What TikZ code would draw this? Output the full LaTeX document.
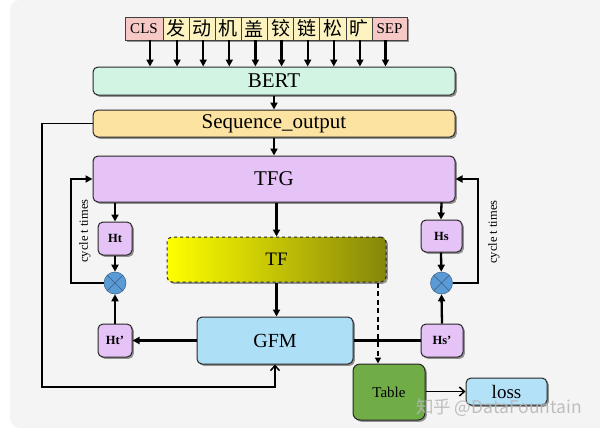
\documentclass[tikz,border=0pt]{standalone}
\usepackage{fontspec}
\setmainfont{Liberation Serif}
\newfontfamily\cjk{Noto Sans CJK SC}
\usetikzlibrary{arrows.meta,shadows}
\definecolor{bgc}{HTML}{F4F4F4}
\definecolor{pinkc}{HTML}{F6C9C6}
\definecolor{yelc}{HTML}{FDF3C0}
\definecolor{mintc}{HTML}{D2F5E3}
\definecolor{seqc}{HTML}{FDE3A1}
\definecolor{lavc}{HTML}{E6C3F7}
\definecolor{bluec}{HTML}{ADDFF7}
\definecolor{lossc}{HTML}{B3E1F8}
\definecolor{greenc}{HTML}{70AD47}
\definecolor{circc}{HTML}{5B9BD5}
\definecolor{oliveend}{HTML}{86860A}
\tikzset{
  shad/.style={drop shadow={shadow xshift=1.8pt,shadow yshift=-1.8pt,opacity=0.4,fill=black}},
  tok/.style={draw=black!75,line width=0.7pt,minimum height=23pt,inner sep=0pt,shad},
  cjktok/.style={tok,fill=yelc,minimum width=26.1pt,font=\cjk\fontsize{19}{19}\selectfont},
  spectok/.style={tok,fill=pinkc,font=\fontsize{15}{15}\selectfont},
  bigbox/.style={draw=black!85,line width=1pt,rounded corners=5pt,inner sep=0pt,shad,
                 font=\fontsize{21}{21}\selectfont},
  smallbox/.style={draw=black!85,line width=1pt,rounded corners=5pt,inner sep=0pt,fill=lavc,shad,
                 font=\bfseries\fontsize{12.5}{12.5}\selectfont},
  mult/.style={circle,draw=circc!70!black,fill=circc,line width=0.6pt,minimum size=22pt,inner sep=0pt},
  arr/.style={line width=2.3pt,-{Triangle[length=7pt,width=7pt]}},
  thinarr/.style={line width=1.5pt,-{Straight Barb[length=5pt,width=9pt]}},
  looptext/.style={rotate=90,font=\fontsize{12.5}{12.5}\selectfont}
}
\begin{document}
\begin{tikzpicture}[x=1pt,y=-1pt]
\useasboundingbox (0,0) rectangle (600,432);
\fill[white] (0,0) rectangle (600,432);
\fill[bgc,rounded corners=10pt] (10,0) rectangle (620,428);

% tokens
\node[spectok,minimum width=38pt] (cls) at (144,28.5) {CLS};
\node[cjktok] (t1) at (176.1,28.5) {发};
\node[cjktok] (t2) at (202.2,28.5) {动};
\node[cjktok] (t3) at (228.3,28.5) {机};
\node[cjktok] (t4) at (254.4,28.5) {盖};
\node[cjktok] (t5) at (280.6,28.5) {铰};
\node[cjktok] (t6) at (306.7,28.5) {链};
\node[cjktok] (t7) at (332.8,28.5) {松};
\node[cjktok] (t8) at (358.9,28.5) {旷};
\node[spectok,minimum width=35pt] (sep) at (389.5,28.5) {SEP};

% main column
\node[bigbox,fill=mintc,minimum width=362pt,minimum height=28pt] (bert) at (274,81) {BERT};
\node[bigbox,fill=seqc,minimum width=362pt,minimum height=27pt] (seq) at (274,123.5) {Sequence\_output};
\node[bigbox,fill=lavc,minimum width=362pt,minimum height=46pt] (tfg) at (274,179) {TFG};
\node[bigbox,dashed,left color=yellow,right color=oliveend,minimum width=219pt,minimum height=45pt,
      font=\fontsize{19}{19}\selectfont] (tf) at (276.5,259.5) {TF};
\node[bigbox,fill=bluec,minimum width=156pt,minimum height=47pt,font=\fontsize{20}{20}\selectfont] (gfm) at (275,340.5) {GFM};

% side boxes
\node[smallbox,minimum width=34pt,minimum height=33pt] (ht) at (115,238.5) {Ht};
\node[smallbox,minimum width=41pt,minimum height=32pt] (hs) at (441.5,236) {Hs};
\node[smallbox,minimum width=34pt,minimum height=33pt] (htp) at (115,340.5) {Ht’};
\node[smallbox,minimum width=42pt,minimum height=33pt] (hsp) at (442,340.5) {Hs’};
\node[mult] (mt) at (115,283) {};
\node[mult] (ms) at (441.5,283) {};
\draw[circc!60!black,line width=0.6pt] (mt.north west) -- (mt.south east) (mt.north east) -- (mt.south west);
\draw[circc!60!black,line width=0.6pt] (ms.north west) -- (ms.south east) (ms.north east) -- (ms.south west);

% output
\node[bigbox,fill=greenc,minimum width=72pt,minimum height=56pt,rounded corners=7pt,
      font=\fontsize{15}{15}\selectfont] (table) at (389,392) {Table};
\node[bigbox,fill=lossc,minimum width=81pt,minimum height=27pt,font=\fontsize{19}{19}\selectfont] (loss) at (506.5,391.5) {loss};

% loop coordinates
\coordinate (lt) at (71,179);
\coordinate (rt) at (478,179);
\coordinate (bl) at (42,387);

% token arrows
\draw[arr] ([xshift=6pt]cls.south) -- ([xshift=6pt]cls.south |- bert.north);
\foreach \t in {t1,t2,t3,t4,t5,t6,t7,t8}
  \draw[arr] ([xshift=1pt]\t.south) -- ([xshift=1pt]\t.south |- bert.north);
\draw[arr] ([xshift=-4pt]sep.south) -- ([xshift=-4pt]sep.south |- bert.north);

% main arrows
\draw[arr] (bert) -- (seq);
\draw[arr] (seq) -- (tfg);
\draw[arr] (tf.north |- tfg.south) -- (tf.north);
\draw[arr] (tf) -- (tf.south |- gfm.north);
\draw[arr] (ht.north |- tfg.south) -- (ht.north);
\draw[arr] (hs.north |- tfg.south) -- ([xshift=-0.5pt]hs.north);
\draw[arr] (ht) -- (mt);
\draw[arr] ([xshift=-0.5pt]hs.south) -- (ms);
\draw[arr] (htp) -- (mt);
\draw[arr] (hsp.north) -- (ms.south);
\draw[arr] (mt.west) -| (lt) -- (tfg.west |- lt);
\draw[arr] (ms.east) -| (rt) -- (tfg.east |- rt);
\draw[arr] (gfm.west |- htp) -- (htp.east);
\draw[line width=2.3pt] (gfm.east |- hsp) -- (hsp.west);
\draw[line width=1.4pt,dash pattern=on 5pt off 3.5pt,-{Triangle[length=6pt,width=6pt]}] ([xshift=101.5pt]tf.south) -- ([xshift=101.5pt]tf.south |- table.north);
\draw[thinarr] (seq.west) -| (bl) -| (gfm.south);
\draw[thinarr] (table.east |- loss) -- (loss.west);

% cycle labels
\node[looptext] (cl) at (85,231) {cycle t times};
\node[looptext] (cr) at (494,232) {cycle t times};

% watermark
\node[font=\cjk\fontsize{17.5}{17.5}\selectfont,text=black!28,opacity=0.9] (wm) at (499,408) {知乎 @DataFountain};
\end{tikzpicture}
\end{document}
